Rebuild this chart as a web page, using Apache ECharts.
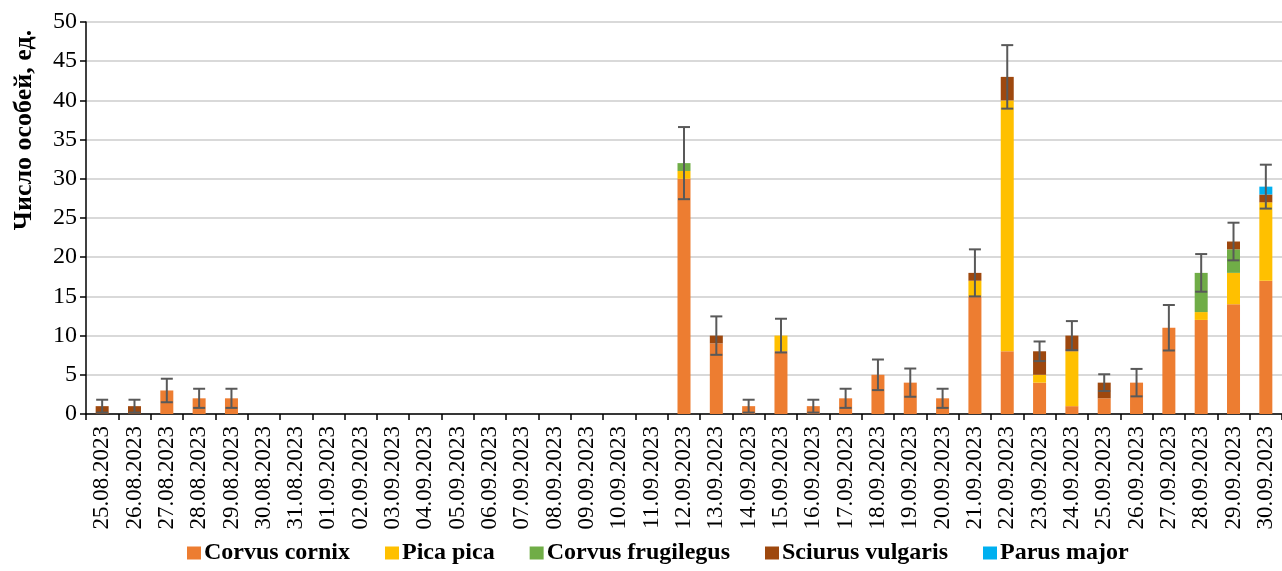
<!DOCTYPE html>
<html>
<head>
<meta charset="utf-8">
<script src="https://cdn.jsdelivr.net/npm/echarts@6/dist/echarts.min.js"></script>
<style>
html,body{margin:0;padding:0;background:#fff;}
#chart{width:1282px;height:571px;}
</style>
</head>
<body>
<div id="chart"></div>
<script>
const dates = ['25.08.2023','26.08.2023','27.08.2023','28.08.2023','29.08.2023','30.08.2023','31.08.2023',
'01.09.2023','02.09.2023','03.09.2023','04.09.2023','05.09.2023','06.09.2023','07.09.2023','08.09.2023','09.09.2023','10.09.2023','11.09.2023',
'12.09.2023','13.09.2023','14.09.2023','15.09.2023','16.09.2023','17.09.2023','18.09.2023','19.09.2023','20.09.2023',
'21.09.2023','22.09.2023','23.09.2023','24.09.2023','25.09.2023','26.09.2023','27.09.2023','28.09.2023','29.09.2023','30.09.2023'];

const corvusCornix =     [0,0,3,2,2,0,0, 0,0,0,0,0,0,0,0,0,0,0, 30,9,1,8,1,2,5,4,2, 15,8,4,1,2,4,11,12,14,17];
const picaPica =         [0,0,0,0,0,0,0, 0,0,0,0,0,0,0,0,0,0,0, 1,0,0,2,0,0,0,0,0, 2,32,1,7,0,0,0,1,4,10];
const corvusFrugilegus = [0,0,0,0,0,0,0, 0,0,0,0,0,0,0,0,0,0,0, 1,0,0,0,0,0,0,0,0, 0,0,0,0,0,0,0,5,3,0];
const sciurusVulgaris =  [1,1,0,0,0,0,0, 0,0,0,0,0,0,0,0,0,0,0, 0,1,0,0,0,0,0,0,0, 1,3,3,2,2,0,0,0,1,1];
const parusMajor =       [0,0,0,0,0,0,0, 0,0,0,0,0,0,0,0,0,0,0, 0,0,0,0,0,0,0,0,0, 0,0,0,0,0,0,0,0,0,1];
const errors =           [0.82,0.82,1.5,1.22,1.22,0,0, 0,0,0,0,0,0,0,0,0,0,0, 4.6,2.45,0.82,2.15,0.82,1.22,1.95,1.8,1.22, 3.0,4.05,1.25,1.85,1.07,1.75,2.9,2.4,2.4,2.8];
const yTicks = [0,5,10,15,20,25,30,35,40,45,50];

const seriesDefs = [
  {name:'Corvus cornix', data:corvusCornix, color:'#ED7D31'},
  {name:'Pica pica', data:picaPica, color:'#FFC000'},
  {name:'Corvus frugilegus', data:corvusFrugilegus, color:'#70AD47'},
  {name:'Sciurus vulgaris', data:sciurusVulgaris, color:'#9E480E'},
  {name:'Parus major', data:parusMajor, color:'#00B0F0'}
];

const totals = dates.map((d,i)=>seriesDefs.reduce((s,sd)=>s+sd.data[i],0));
const errData = [];
dates.forEach((d,i)=>{ if(errors[i]>0) errData.push([i, totals[i], errors[i]]); });

const FONT = "'Liberation Serif','Times New Roman',serif";

const chart = echarts.init(document.getElementById('chart'), null, {renderer:'canvas'});
const series = seriesDefs.map(sd=>({
  name: sd.name,
  type: 'bar',
  stack: 'total',
  barWidth: 13,
  data: sd.data,
  itemStyle: {color: sd.color},
  emphasis: {disabled: true}
}));
series.push({
  name: 'err',
  type: 'custom',
  data: errData,
  z: 10,
  silent: true,
  renderItem: function(params, api){
    const i = api.value(0), t = api.value(1), e = api.value(2);
    const hi = api.coord([i, t+e]);
    const lo = api.coord([i, t-e]);
    const x = hi[0], hw = 6;
    const st = {stroke:'#595959', lineWidth:2};
    return {type:'group', children:[
      {type:'line', shape:{x1:x, y1:hi[1], x2:x, y2:lo[1]}, style:st},
      {type:'line', shape:{x1:x-hw, y1:hi[1], x2:x+hw, y2:hi[1]}, style:st},
      {type:'line', shape:{x1:x-hw, y1:lo[1], x2:x+hw, y2:lo[1]}, style:st}
    ]};
  }
});

chart.setOption({
  animation: false,
  backgroundColor: '#fff',
  grid: {left: 86, right: 0, top: 22, bottom: 157},
  legend: {
    data: seriesDefs.map(s=>s.name),
    left: 187, bottom: 6, padding: 0,
    icon: 'rect', itemWidth: 14, itemHeight: 13, itemGap: 35,
    textStyle: {fontFamily: FONT, fontSize: 24, fontWeight: 'bold', color: '#000', padding:[0,0,0,-2]}
  },
  xAxis: {
    type: 'category',
    data: dates,
    axisLine: {lineStyle: {color: '#000', width: 1.5}},
    axisTick: {show: true, length: 6, lineStyle: {color: '#000', width: 1.5}},
    axisLabel: {rotate: 90, interval: 0, fontFamily: FONT, fontSize: 23, color: '#000', margin: 12}
  },
  yAxis: {
    type: 'value',
    min: 0, max: 50, interval: 5,
    axisLine: {show: true, lineStyle: {color: '#000', width: 1.5}},
    axisTick: {show: true, length: 6, lineStyle: {color: '#000', width: 1.5}},
    axisLabel: {fontFamily: FONT, fontSize: 24, color: '#000', margin: 9,
      formatter: v => yTicks.includes(v) ? String(v) : ''},
    splitLine: {lineStyle: {color: '#d9d9d9', width: 2}}
  },
  graphic: [{
    type: 'text', x: 24, y: 130, rotation: Math.PI/2,
    style: {text: 'Число особей, ед.', font: "bold 26px 'Liberation Serif','Times New Roman',serif",
      fill: '#000', textAlign: 'center', textVerticalAlign: 'middle'}
  }],
  series: series
});
</script>
</body>
</html>
